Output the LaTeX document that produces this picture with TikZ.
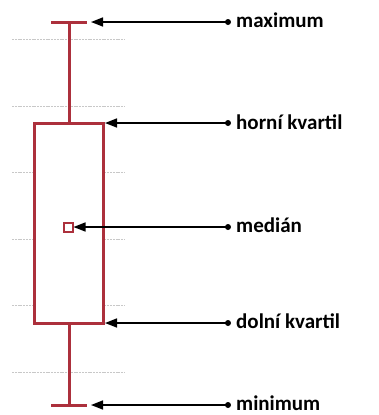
\documentclass[tikz,border=0pt]{standalone}
\usepackage{fontspec}
\setmainfont{Carlito}
\usetikzlibrary{arrows.meta}
\definecolor{boxred}{RGB}{172,48,60}
\definecolor{gridgray}{RGB}{200,200,200}
\begin{document}
\begin{tikzpicture}[x=1bp,y=-1bp,
  redline/.style={draw=boxred,line width=3bp},
  grid/.style={draw=gridgray,line width=0.9bp,dash pattern=on 2bp off 0.8bp},
  pointer/.style={draw=black,line width=1.5bp,-{Triangle[length=12bp,width=9bp]}},
  lbl/.style={anchor=west,inner sep=0pt,font=\fontsize{21bp}{23bp}\selectfont\bfseries},
  dotc/.style={fill=black,circle,inner sep=0pt,minimum size=6bp}]
\useasboundingbox (0,0) rectangle (379,415);
% grid lines
\foreach \gy in {39,106,172,239,305,372}
  \draw[grid] (12,\gy) -- (125,\gy);
% box plot
\coordinate (wtop) at (69,22);
\coordinate (wbot) at (69,405);
\draw[redline] (51,22) -- (87,22);
\draw[redline] (51,405) -- (87,405);
\draw[redline] (wtop) -- (69,123);
\draw[redline] (69,323) -- (wbot);
\draw[redline,fill=white] (34.5,123) rectangle (103.5,323);
\node[draw=boxred,line width=2bp,minimum size=9bp,inner sep=0pt] (med) at (68,227) {};
% targets
\coordinate (tmax) at (91,22);
\coordinate (thk) at (105,123);
\coordinate (tdk) at (105,323);
\coordinate (tmin) at (91,405);
% labels
\node[lbl] (lmax) at (236,20) {maximum};
\node[lbl] (lhk) at (236,122) {horní kvartil};
\node[lbl] (lmed) at (236,225) {medián};
\node[lbl] (ldk) at (236,321) {dolní kvartil};
\node[lbl] (lmin) at (236,403) {minimum};
% dots
\node[dotc] (dmax) at (228,22) {};
\node[dotc] (dhk) at (228,123) {};
\node[dotc] (dmed) at (228,227) {};
\node[dotc] (ddk) at (228,323) {};
\node[dotc] (dmin) at (228,405) {};
% arrows
\draw[pointer] (dmax.center) -- (tmax);
\draw[pointer] (dhk.center) -- (thk);
\draw[pointer] (dmed.center) -- (med.east);
\draw[pointer] (ddk.center) -- (tdk);
\draw[pointer] (dmin.center) -- (tmin);
\end{tikzpicture}
\end{document}
